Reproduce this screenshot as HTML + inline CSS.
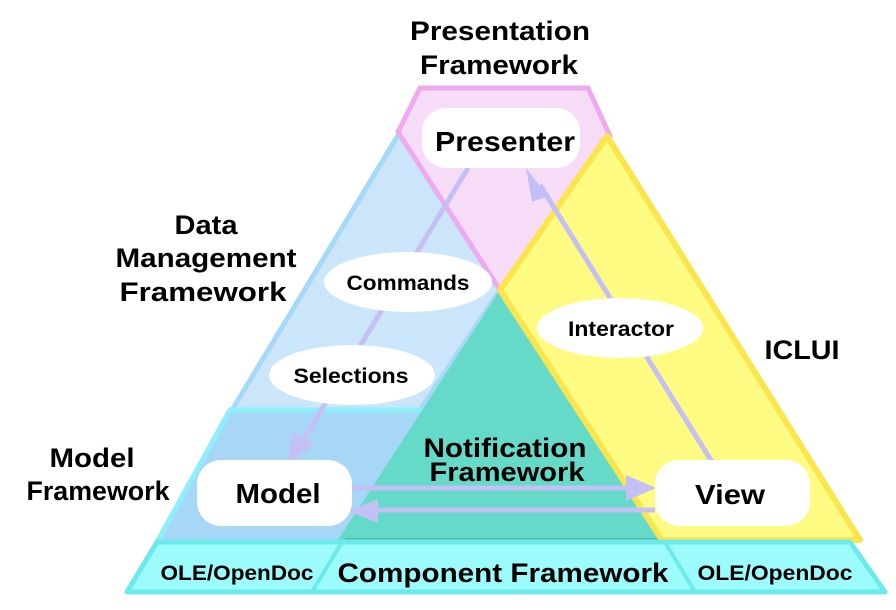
<!DOCTYPE html>
<html><head><meta charset="utf-8"><style>
html,body{margin:0;padding:0;background:#fff;width:896px;height:610px;overflow:hidden}
svg{display:block}
text{font-family:"Liberation Sans",Arial,sans-serif;font-weight:bold;fill:#000;text-anchor:middle}
</style></head><body>
<svg width="896" height="610" viewBox="0 0 896 610">
<polygon points="400,132 500,290 420,410 232,410" fill="#cbe6fb" stroke="#a6d8f8" stroke-width="5" stroke-linejoin="round"/>
<polygon points="420,88 588,88 610,136 500,290 398,132" fill="#f7dcf7" stroke="#eeaaee" stroke-width="5" stroke-linejoin="round"/>
<polygon points="230,410 428,410 342,542 157,542" fill="#a6d7f7" stroke="#8eeefa" stroke-width="5" stroke-linejoin="round"/>
<polygon points="500,290 665,540 338,540" fill="#66dac8"/>
<line x1="345" y1="540" x2="665" y2="540" stroke="#55bba8" stroke-width="4"/>
<polygon points="607,136 860,540 662,540 500,290" fill="#fdfb82" stroke="#fbe54e" stroke-width="6" stroke-linejoin="round"/>
<polygon points="157,542 850,542 885,592 127,592" fill="#9cfcfc" stroke="#6ceaea" stroke-width="5" stroke-linejoin="round"/>
<line x1="342" y1="542" x2="312" y2="592" stroke="#6ceaea" stroke-width="4"/>
<line x1="665" y1="542" x2="695" y2="592" stroke="#6ceaea" stroke-width="4"/>
<g stroke="#c4bff4" stroke-width="5" fill="none">
<line x1="468" y1="168" x2="300" y2="445"/>
<line x1="712" y1="462" x2="540" y2="185"/>
<line x1="350" y1="488" x2="630" y2="488"/>
<line x1="655" y1="510" x2="372" y2="510"/>
</g>
<g fill="#c4bff4">
<polygon points="288,464 292,432 314,444"/>
<polygon points="526,168 548,196 532,202"/>
<polygon points="656,488 626,475 626,501"/>
<polygon points="348,511 378,499 378,523"/>
</g>
<rect x="422" y="108" width="158" height="60" rx="24" fill="#fff"/>
<rect x="197" y="460" width="155" height="66" rx="24" fill="#fff"/>
<rect x="655" y="460" width="155" height="66" rx="24" fill="#fff"/>
<ellipse cx="408" cy="282" rx="84" ry="30" fill="#fff"/>
<ellipse cx="352" cy="375" rx="83" ry="30" fill="#fff"/>
<ellipse cx="620" cy="328" rx="83" ry="30" fill="#fff"/>
<g lengthAdjust="spacingAndGlyphs">
<text x="500" y="40" font-size="27" textLength="180" lengthAdjust="spacingAndGlyphs">Presentation</text>
<text x="499" y="74" font-size="27" textLength="158" lengthAdjust="spacingAndGlyphs">Framework</text>
<text x="505" y="151" font-size="28" textLength="140" lengthAdjust="spacingAndGlyphs">Presenter</text>
<text x="206" y="234" font-size="27" textLength="63" lengthAdjust="spacingAndGlyphs">Data</text>
<text x="206" y="267" font-size="27" textLength="181" lengthAdjust="spacingAndGlyphs">Management</text>
<text x="203" y="301" font-size="27" textLength="167" lengthAdjust="spacingAndGlyphs">Framework</text>
<text x="92" y="467" font-size="27" textLength="85" lengthAdjust="spacingAndGlyphs">Model</text>
<text x="98" y="500" font-size="27" textLength="143" lengthAdjust="spacingAndGlyphs">Framework</text>
<text x="802" y="359" font-size="27" textLength="75" lengthAdjust="spacingAndGlyphs">ICLUI</text>
<text x="408" y="290" font-size="21" textLength="123" lengthAdjust="spacingAndGlyphs">Commands</text>
<text x="351" y="383" font-size="21" textLength="115" lengthAdjust="spacingAndGlyphs">Selections</text>
<text x="621" y="336" font-size="21" textLength="106" lengthAdjust="spacingAndGlyphs">Interactor</text>
<text x="505" y="457" font-size="27" textLength="163" lengthAdjust="spacingAndGlyphs">Notification</text>
<text x="507" y="481" font-size="27" textLength="155" lengthAdjust="spacingAndGlyphs">Framework</text>
<text x="278" y="503" font-size="28" textLength="85" lengthAdjust="spacingAndGlyphs">Model</text>
<text x="730" y="504" font-size="28" textLength="70" lengthAdjust="spacingAndGlyphs">View</text>
<text x="237" y="580" font-size="21" textLength="153" lengthAdjust="spacingAndGlyphs">OLE/OpenDoc</text>
<text x="503" y="582" font-size="27" textLength="331" lengthAdjust="spacingAndGlyphs">Component Framework</text>
<text x="775" y="580" font-size="21" textLength="155" lengthAdjust="spacingAndGlyphs">OLE/OpenDoc</text>
</g>
</svg>
</body></html>
